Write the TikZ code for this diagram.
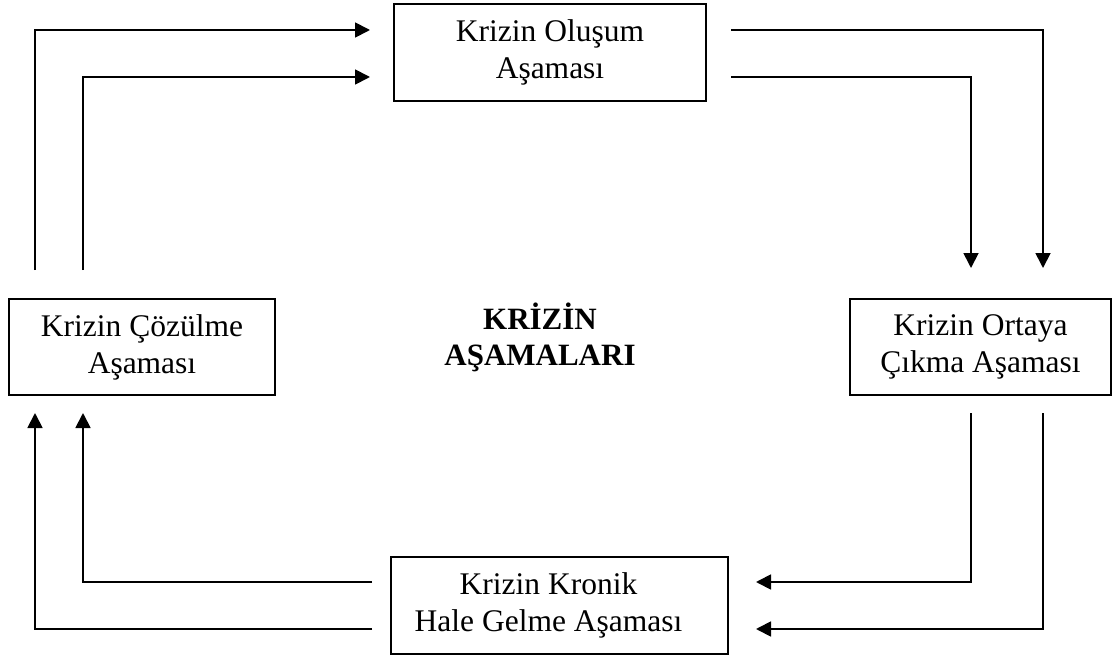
\documentclass[tikz,border=0pt]{standalone}
\usepackage{fontspec}
\setmainfont{Liberation Serif}
\usetikzlibrary{arrows.meta}
\begin{document}
\begin{tikzpicture}[x=1pt,y=-1pt,
  box/.style={draw,line width=1.8pt,inner sep=0pt,align=center,
    font=\fontsize{31.5}{37}\selectfont},
  title/.style={inner sep=0pt,align=center,font=\fontsize{31}{36}\selectfont\bfseries},
  conn/.style={line width=1.8pt,-{Triangle[length=15pt,width=15pt]}}]
\useasboundingbox (0,0) rectangle (1113,655);
\node[box,minimum width=312pt,minimum height=97pt] (top) at (550,52.5) {Krizin Oluşum\\Aşaması};
\node[box,minimum width=266pt,minimum height=96pt] (left) at (142,347) {Krizin Çözülme\\Aşaması};
\node[box,minimum width=261pt,minimum height=96pt] (right) at (980.5,347) {Krizin Ortaya\\Çıkma Aşaması};
\node[box,minimum width=337pt,minimum height=97pt] (bottom) at (559.5,605.5) {\hspace*{-22pt}Krizin Kronik\\\hspace*{-22pt}Hale Gelme Aşaması};
\node[title] (center) at (540,337) {KRİZİN\\AŞAMALARI};
% left -> top
\coordinate (l1) at (35,270);
\coordinate (l2) at (83,270);
\coordinate (t1) at (370,30);
\coordinate (t2) at (370,77);
\draw[conn] (l1) |- (t1);
\draw[conn] (l2) |- (t2);
% top -> right
\coordinate (t3) at (731,30);
\coordinate (t4) at (731,77);
\coordinate (r1) at (1043,268);
\coordinate (r2) at (971,268);
\draw[conn] (t3) -| (r1);
\draw[conn] (t4) -| (r2);
% right -> bottom
\coordinate (r3) at (971,413);
\coordinate (r4) at (1043,413);
\coordinate (b1) at (756,582);
\coordinate (b2) at (756,629);
\draw[conn] (r3) |- (b1);
\draw[conn] (r4) |- (b2);
% bottom -> left
\coordinate (b3) at (372,582);
\coordinate (b4) at (372,629);
\coordinate (l3) at (83,413);
\coordinate (l4) at (35,413);
\draw[conn] (b3) -| (l3);
\draw[conn] (b4) -| (l4);
\end{tikzpicture}
\end{document}
